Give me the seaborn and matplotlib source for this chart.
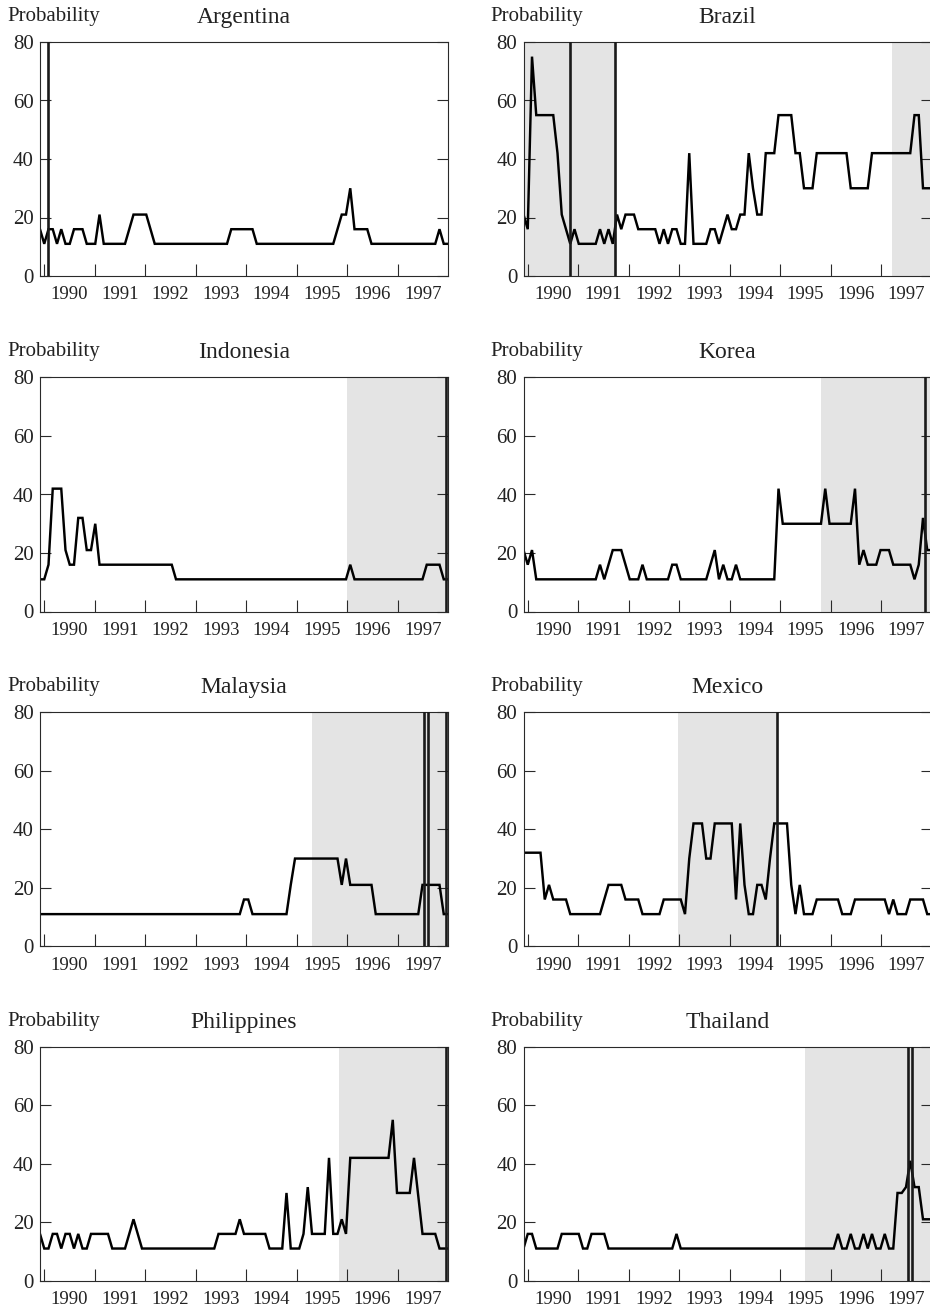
import numpy as np
import pandas as pd
import matplotlib
matplotlib.use("Agg")
import matplotlib.pyplot as plt
import seaborn as sns

# ---------------- data (monthly, Dec 1989 .. Dec 1997) ----------------
countries = ["Argentina", "Brazil", "Indonesia", "Korea",
             "Malaysia", "Mexico", "Philippines", "Thailand"]

argentina = [16, 11, 16, 16, 11, 16, 11, 11, 16, 16, 16, 11, 11, 11, 21, 11,
             11, 11, 11, 11, 11,
             16, 21, 21, 21, 21, 16,
             11, 11, 11, 11, 11, 11, 11, 11, 11, 11, 11, 11, 11, 11, 11, 11, 11, 11,
             16, 16, 16, 16, 16, 16,
             11, 11, 11, 11, 11, 11, 11, 11, 11, 11, 11, 11, 11, 11, 11, 11, 11, 11, 11,
             16, 21, 21, 30, 16, 16, 16, 16, 11,
             11, 11, 11, 11, 11, 11, 11, 11, 11, 11, 11, 11, 11, 11, 11,
             16, 11, 11]

brazil = [21, 16, 75, 55,
          55, 55, 55, 55,
          42, 21, 16, 11,
          16, 11,
          11, 11, 11, 11,
          16, 11, 16, 11,
          21, 16, 21,
          21, 21,
          16, 16, 16, 16, 16,
          11, 16, 11,
          16, 16,
          11, 11,
          42,
          11, 11, 11, 11,
          16, 16,
          11, 16, 21,
          16, 16,
          21, 21,
          42, 30, 21, 21,
          42, 42, 42,
          55, 55, 55, 55,
          42, 42,
          30, 30, 30,
          42, 42, 42, 42, 42, 42, 42, 42,
          30, 30, 30, 30, 30,
          42, 42, 42, 42, 42, 42, 42, 42, 42, 42,
          55, 55,
          30, 30, 30]

indonesia = [11, 11, 16,
             42, 42, 42,
             21,
             16, 16,
             32, 32,
             21, 21,
             30,
             16, 16, 16, 16, 16, 16, 16, 16, 16, 16, 16, 16, 16, 16, 16, 16, 16, 16,
             11, 11, 11, 11, 11, 11, 11, 11, 11, 11, 11, 11, 11, 11, 11, 11, 11, 11,
             11, 11, 11, 11, 11, 11, 11, 11, 11, 11, 11, 11, 11, 11, 11, 11, 11, 11,
             11, 11, 11, 11, 11,
             16,
             11, 11, 11, 11, 11, 11, 11, 11, 11, 11, 11, 11, 11, 11, 11, 11, 11,
             16, 16, 16, 16,
             11, 11]

korea = [21, 16, 21, 11,
         11, 11, 11, 11, 11, 11, 11, 11, 11, 11, 11, 11, 11, 11,
         16, 11,
         16, 21, 21, 21, 16,
         11, 11, 11,
         16,
         11, 11, 11, 11, 11, 11,
         16, 16,
         11, 11, 11, 11, 11, 11, 11,
         16, 21, 11, 16, 11, 11, 16,
         11, 11, 11, 11, 11, 11, 11, 11, 11,
         42,
         30, 30, 30, 30, 30, 30, 30, 30, 30, 30,
         42,
         30, 30, 30, 30, 30, 30,
         42,
         16, 21, 16, 16, 16,
         21, 21, 21,
         16, 16, 16, 16, 16,
         11, 16, 32, 21, 21]

malaysia = [11, 11, 11, 11, 11, 11, 11, 11, 11, 11, 11, 11, 11, 11, 11, 11,
            11, 11, 11, 11, 11, 11, 11, 11, 11, 11, 11, 11, 11, 11, 11, 11,
            11, 11, 11, 11, 11, 11, 11, 11, 11, 11, 11, 11, 11, 11, 11, 11,
            16, 16,
            11, 11, 11, 11, 11, 11, 11, 11, 11,
            21,
            30, 30, 30, 30, 30, 30, 30, 30, 30, 30, 30,
            21, 30, 21,
            21, 21, 21, 21, 21,
            11, 11, 11, 11, 11, 11, 11, 11, 11, 11, 11,
            21, 21, 21, 21, 21,
            11, 11]

mexico = [32, 32, 32, 32, 32,
          16, 21,
          16, 16, 16, 16,
          11, 11, 11, 11, 11, 11, 11, 11,
          16,
          21, 21, 21, 21,
          16, 16, 16, 16,
          11, 11, 11, 11, 11,
          16, 16, 16, 16, 16,
          11, 30,
          42, 42, 42,
          30, 30,
          42, 42, 42, 42, 42,
          16, 42, 21, 11, 11,
          21, 21, 16, 30,
          42, 42, 42, 42,
          21, 11, 21,
          11, 11, 11,
          16, 16, 16, 16, 16, 16,
          11, 11, 11,
          16, 16, 16, 16, 16, 16, 16, 16,
          11, 16,
          11, 11, 11,
          16, 16, 16, 16,
          11, 11]

philippines = [16, 11, 11, 16, 16, 11, 16, 16, 11, 16, 11, 11,
               16, 16, 16, 16, 16,
               11, 11, 11, 11,
               16, 21, 16,
               11, 11, 11, 11, 11, 11, 11, 11, 11, 11, 11, 11, 11, 11, 11, 11, 11, 11,
               16, 16, 16, 16, 16,
               21,
               16, 16, 16, 16, 16, 16,
               11, 11, 11, 11,
               30,
               11, 11, 11,
               16, 32,
               16, 16, 16, 16,
               42,
               16, 16,
               21, 16,
               42, 42, 42, 42, 42, 42, 42, 42, 42, 42,
               55,
               30, 30, 30, 30,
               42, 29,
               16, 16, 16, 16,
               11, 11, 11]

thailand = [11, 16, 16,
            11, 11, 11, 11, 11, 11,
            16, 16, 16, 16, 16,
            11, 11,
            16, 16, 16, 16,
            11, 11, 11, 11, 11, 11, 11, 11, 11, 11, 11, 11, 11, 11, 11, 11,
            16,
            11, 11, 11, 11, 11, 11, 11, 11, 11, 11, 11, 11, 11, 11, 11, 11, 11, 11, 11,
            11, 11, 11, 11, 11, 11, 11, 11, 11, 11, 11, 11, 11, 11, 11, 11, 11, 11,
            16, 11, 11, 16, 11, 11, 16, 11, 16, 11, 11, 16, 11, 11,
            30, 30, 32, 41, 32, 32,
            21, 21, 21]

series = [argentina, brazil, indonesia, korea, malaysia, mexico, philippines, thailand]

# shaded (pre-crisis) windows and crisis dates, in decimal years
x_start, x_end = 1989.917, 1998.0
shaded = {
    "Argentina": [],
    "Brazil": [(x_start, 1991.738), (1997.224, x_end)],
    "Indonesia": [(1995.996, x_end)],
    "Korea": [(1995.82, x_end)],
    "Malaysia": [(1995.31, x_end)],
    "Mexico": [(1992.976, 1994.932)],
    "Philippines": [(1995.845, x_end)],
    "Thailand": [(1995.498, x_end)],
}
crises = {
    "Argentina": [1990.068],
    "Brazil": [1990.843, 1991.738],
    "Indonesia": [1997.96],
    "Korea": [1997.869],
    "Malaysia": [1997.526, 1997.606, 1997.957],
    "Mexico": [1994.932],
    "Philippines": [1997.957],
    "Thailand": [1997.54, 1997.619],
}

year_ticks = [1990, 1991, 1992, 1993, 1994, 1995, 1996, 1997]
year_labels = ["1990", "1991", "1992", "1993", "1994", "1995", "1996", "1997"]
y_ticks = [0, 20, 40, 60, 80]

# ---------------- style ----------------
sns.set_theme(style="white")
plt.rcParams["font.family"] = ["Liberation Serif", "DejaVu Serif"]
plt.rcParams["axes.edgecolor"] = "#2a2a2a"
plt.rcParams["axes.linewidth"] = 0.8
plt.rcParams["text.color"] = "#222222"
plt.rcParams["xtick.color"] = "#2a2a2a"
plt.rcParams["ytick.color"] = "#2a2a2a"
plt.rcParams["xtick.labelcolor"] = "#222222"
plt.rcParams["ytick.labelcolor"] = "#222222"

W, H = 930, 1308
fig = plt.figure(figsize=(W / 100, H / 100), dpi=100)
fig.patch.set_facecolor("white")

ax_w, ax_h = 408, 234
lefts = [40, 523.5]
tops = [42, 377.5, 712.3, 1046.7]

months = np.linspace(x_start, x_end, len(argentina))

for i, (name, vals) in enumerate(zip(countries, series)):
    r, c = divmod(i, 2)
    l = lefts[c]
    t = tops[r]
    ax = fig.add_axes([l / W, (H - t - ax_h) / H, ax_w / W, ax_h / H])
    ax.set_facecolor("white")

    for (a, b) in shaded[name]:
        ax.axvspan(a, b, color="#e4e4e4", lw=0, zorder=0)

    df = pd.DataFrame({"year": months, "prob": vals})
    sns.lineplot(data=df, x="year", y="prob", ax=ax, color="black",
                 lw=1.75, estimator=None, sort=False, zorder=2.5)
    for ln in ax.get_lines():
        ln.set_solid_joinstyle("miter")

    for cx in crises[name]:
        ax.axvline(cx, color="#1a1a1a", lw=1.9, zorder=3)

    ax.set_xlim(x_start, x_end)
    ax.set_ylim(0, 80)
    ax.set_xlabel("")
    ax.set_ylabel("")

    ax.set_xticks(year_ticks)
    ax.set_xticklabels([""] * len(year_ticks))
    ax.set_xticks([y + 0.5 for y in year_ticks], minor=True)
    ax.set_xticklabels(year_labels, minor=True)
    ax.tick_params(axis="x", which="major", direction="in", length=8.5,
                   width=0.8, bottom=True, top=False)
    ax.tick_params(axis="x", which="minor", length=0, pad=7.5,
                   labelsize=13.5, bottom=True, top=False)

    ax.set_yticks(y_ticks)
    ax.set_yticklabels([str(v) for v in y_ticks])
    ax.tick_params(axis="y", which="major", direction="in", length=8,
                   width=0.8, left=True, right=True, labelsize=15, pad=4.5)

    for s in ax.spines.values():
        s.set_visible(True)
        s.set_color("#2a2a2a")
        s.set_linewidth(0.8)

    ax.text(-0.081, 1 + 21 / ax_h, "Probability", transform=ax.transAxes,
            ha="left", va="baseline", fontsize=15)
    ax.text(0.5, 1 + 19 / ax_h, name, transform=ax.transAxes,
            ha="center", va="baseline", fontsize=17)

fig.savefig("out.png", dpi=100, facecolor="white")
